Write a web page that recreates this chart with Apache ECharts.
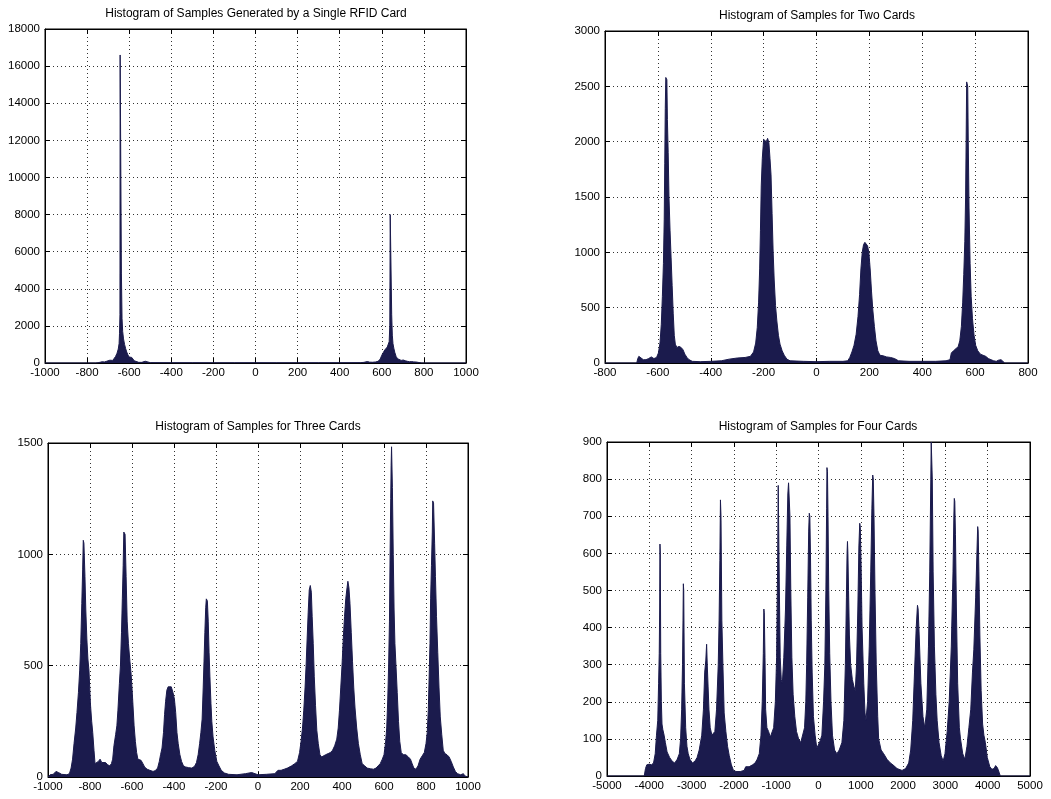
<!DOCTYPE html>
<html>
<head>
<meta charset="utf-8">
<title>RFID sample histograms</title>
<script src="https://cdn.jsdelivr.net/npm/echarts@6/dist/echarts.min.js"></script>
<style>
  html, body { margin: 0; padding: 0; background: #fff; }
  #chart { width: 1051px; height: 799px; }
</style>
</head>
<body>
<div id="chart"></div>
<script>
// histogram bins: [bin centre, count]
var singleCard = [
  [-1000, 0], [-760, 0], [-748, 15], [-738, 40], [-728, 70], [-718, 55], [-708, 90], [-700, 70],
  [-692, 150], [-685, 110], [-678, 140], [-671, 230], [-665, 350], [-658, 520], [-652, 750],
  [-648, 1050], [-646, 1600], [-644, 2600], [-643, 16600], [-639, 16600], [-637, 4800],
  [-634, 2400], [-631, 1700], [-627, 1300], [-622, 1000], [-617, 780], [-612, 600], [-606, 430],
  [-600, 320], [-594, 330], [-588, 300], [-582, 240], [-576, 120], [-568, 60], [-555, 35],
  [-540, 35], [-532, 90], [-524, 95], [-516, 40], [-500, 20], [-400, 15], [-300, 15], [-200, 12],
  [-100, 12], [0, 15], [100, 12], [200, 12], [300, 15], [400, 15], [500, 20], [515, 35],
  [524, 75], [532, 80], [542, 45], [556, 40], [570, 55], [582, 90], [592, 200], [600, 420],
  [607, 560], [614, 700], [620, 780], [626, 860], [631, 950], [635, 1150], [638, 2000],
  [640, 8000], [645, 7900], [647, 2600], [650, 1500], [653, 1050], [657, 800], [662, 560],
  [668, 350], [675, 230], [683, 160], [692, 140], [702, 160], [712, 120], [722, 90], [732, 70],
  [742, 75], [752, 60], [762, 55], [772, 35], [780, 10], [790, 0], [1000, 0]
];

var twoCards = [
  [-800, 0], [-680, 0], [-676, 40], [-672, 60], [-665, 50], [-655, 30], [-645, 30], [-635, 40],
  [-625, 55], [-615, 40], [-605, 50], [-598, 90], [-592, 180], [-587, 350], [-583, 600],
  [-579, 900], [-576, 1300], [-574, 1800], [-572, 2300], [-570, 2580], [-566, 2560],
  [-564, 2200], [-561, 1900], [-558, 1500], [-554, 1200], [-550, 950], [-546, 700], [-542, 450],
  [-538, 250], [-534, 170], [-528, 140], [-520, 150], [-512, 140], [-505, 120], [-498, 80],
  [-490, 50], [-482, 30], [-470, 15], [-440, 12], [-400, 15], [-360, 20], [-330, 35], [-300, 45],
  [-270, 50], [-250, 60], [-238, 100], [-230, 180], [-224, 320], [-219, 550], [-215, 850],
  [-212, 1200], [-209, 1600], [-205, 1850], [-200, 2020], [-195, 2030], [-190, 2000],
  [-185, 2030], [-180, 1990], [-176, 1850], [-172, 1700], [-168, 1350], [-164, 1000], [-160, 750],
  [-155, 520], [-150, 380], [-144, 250], [-138, 170], [-130, 110], [-122, 70], [-112, 35],
  [-100, 20], [-50, 15], [0, 12], [50, 15], [100, 15], [118, 20], [126, 50], [134, 100],
  [142, 160], [150, 260], [157, 420], [163, 620], [168, 850], [173, 1000], [178, 1070],
  [183, 1090], [188, 1080], [193, 1060], [198, 1000], [203, 850], [208, 650], [213, 480],
  [219, 330], [225, 200], [232, 110], [240, 70], [252, 65], [265, 55], [280, 50], [295, 40],
  [310, 20], [350, 15], [400, 15], [450, 15], [490, 20], [505, 30], [510, 90], [518, 110],
  [528, 130], [536, 150], [542, 200], [548, 330], [553, 550], [557, 800], [561, 1100],
  [564, 1500], [566, 2000], [568, 2540], [572, 2500], [574, 2000], [577, 1400], [581, 900],
  [585, 600], [590, 400], [596, 250], [602, 160], [610, 110], [620, 80], [630, 70], [640, 60],
  [650, 40], [660, 30], [670, 20], [680, 15], [688, 25], [698, 30], [705, 15], [712, 0], [800, 0]
];

var threeCards = [
  [-1000, 0], [-990, 10], [-975, 12], [-962, 25], [-950, 20], [-935, 12], [-910, 10], [-898, 15],
  [-890, 40], [-883, 80], [-876, 150], [-868, 220], [-862, 290], [-855, 380], [-849, 480],
  [-844, 600], [-839, 780], [-835, 930], [-832, 1063], [-829, 1050], [-824, 900], [-820, 750],
  [-815, 620], [-810, 530], [-805, 480], [-798, 330], [-792, 250], [-787, 200], [-781, 120],
  [-776, 60], [-768, 55], [-760, 70], [-752, 80], [-744, 65], [-736, 60], [-726, 65], [-716, 55],
  [-706, 50], [-698, 60], [-692, 80], [-686, 140], [-678, 190], [-672, 230], [-667, 300],
  [-660, 420], [-655, 500], [-650, 650], [-646, 800], [-642, 950], [-639, 1100], [-633, 1090],
  [-628, 900], [-623, 700], [-617, 600], [-610, 520], [-604, 460], [-597, 350], [-590, 230],
  [-584, 160], [-578, 110], [-572, 80], [-565, 78], [-557, 75], [-548, 60], [-540, 45],
  [-528, 35], [-515, 30], [-500, 25], [-490, 28], [-478, 40], [-470, 70], [-464, 100],
  [-457, 130], [-450, 200], [-445, 280], [-440, 340], [-434, 390], [-428, 405], [-420, 410],
  [-413, 405], [-405, 380], [-398, 350], [-392, 290], [-386, 200], [-380, 150], [-372, 100],
  [-364, 70], [-355, 50], [-345, 45], [-330, 42], [-315, 40], [-302, 48], [-293, 65], [-285, 100],
  [-278, 150], [-272, 200], [-266, 260], [-261, 400], [-257, 520], [-253, 650], [-249, 760],
  [-246, 800], [-241, 790], [-237, 700], [-233, 560], [-229, 450], [-224, 330], [-220, 250],
  [-214, 180], [-206, 120], [-196, 70], [-186, 50], [-175, 30], [-160, 18], [-140, 12],
  [-100, 10], [-60, 15], [-30, 20], [0, 10], [40, 12], [80, 15], [95, 30], [110, 30], [125, 35],
  [140, 40], [160, 50], [175, 60], [188, 70], [198, 110], [205, 160], [212, 220], [218, 300],
  [224, 400], [229, 500], [234, 620], [239, 740], [244, 840], [249, 860], [254, 830], [258, 720],
  [263, 600], [268, 450], [274, 320], [280, 210], [287, 150], [295, 100], [303, 90], [312, 95],
  [322, 100], [334, 105], [345, 110], [355, 120], [365, 140], [375, 170], [382, 220], [388, 300],
  [394, 400], [400, 500], [406, 620], [412, 720], [418, 800], [424, 850], [428, 879], [433, 850],
  [438, 780], [444, 650], [450, 520], [456, 400], [462, 310], [470, 220], [478, 150], [487, 100],
  [496, 60], [508, 50], [520, 40], [535, 37], [550, 35], [562, 40], [572, 50], [582, 60],
  [592, 80], [600, 100], [607, 150], [613, 220], [618, 350], [622, 500], [626, 700], [629, 1000],
  [632, 1250], [634, 1400], [636, 1483], [640, 1300], [644, 1000], [648, 750], [652, 600],
  [657, 500], [663, 380], [669, 250], [675, 160], [682, 110], [692, 100], [704, 100], [716, 90],
  [726, 80], [734, 60], [742, 40], [752, 35], [762, 50], [772, 80], [782, 95], [792, 110],
  [800, 150], [806, 200], [811, 300], [815, 450], [819, 600], [822, 800], [826, 950], [830, 1100],
  [832, 1240], [836, 1230], [841, 1050], [845, 900], [850, 720], [856, 560], [862, 400],
  [868, 270], [875, 190], [882, 120], [890, 105], [900, 100], [910, 90], [920, 70], [930, 45],
  [940, 25], [950, 15], [965, 10], [978, 15], [985, 5], [992, 0], [1000, 0]
];

var fourCards = [
  [-5000, 0], [-4120, 0], [-4090, 20], [-4060, 30], [-4000, 32], [-3950, 30], [-3900, 35],
  [-3860, 60], [-3830, 110], [-3800, 150], [-3780, 250], [-3765, 330], [-3755, 450], [-3748, 625],
  [-3740, 600], [-3730, 330], [-3715, 200], [-3700, 140], [-3680, 125], [-3650, 110], [-3620, 90],
  [-3580, 65], [-3520, 50], [-3460, 40], [-3400, 35], [-3340, 45], [-3290, 60], [-3260, 100],
  [-3235, 180], [-3215, 300], [-3203, 420], [-3195, 518], [-3186, 500], [-3170, 250],
  [-3140, 130], [-3110, 80], [-3080, 60], [-3040, 45], [-2980, 35], [-2920, 40], [-2870, 50],
  [-2820, 70], [-2760, 110], [-2720, 180], [-2690, 280], [-2665, 310], [-2645, 355], [-2630, 300],
  [-2610, 240], [-2590, 180], [-2560, 130], [-2520, 110], [-2480, 115], [-2450, 120],
  [-2410, 180], [-2370, 300], [-2350, 420], [-2332, 580], [-2318, 744], [-2305, 700],
  [-2285, 420], [-2260, 300], [-2230, 170], [-2190, 120], [-2150, 80], [-2110, 55], [-2060, 30],
  [-2010, 15], [-1950, 12], [-1850, 12], [-1760, 15], [-1720, 25], [-1640, 25], [-1560, 30],
  [-1500, 35], [-1450, 45], [-1400, 60], [-1360, 110], [-1330, 200], [-1305, 330], [-1292, 450],
  [-1282, 440], [-1265, 320], [-1250, 180], [-1220, 130], [-1180, 120], [-1140, 105], [-1100, 100],
  [-1060, 130], [-1020, 200], [-990, 320], [-968, 550], [-952, 783], [-942, 780], [-925, 500],
  [-905, 320], [-880, 260], [-855, 250], [-820, 320], [-780, 450], [-750, 620], [-725, 760],
  [-708, 790], [-695, 785], [-675, 700], [-655, 500], [-630, 320], [-600, 220], [-560, 160],
  [-520, 120], [-470, 100], [-420, 90], [-380, 85], [-330, 130], [-300, 200], [-280, 300],
  [-255, 480], [-232, 660], [-218, 708], [-205, 700], [-190, 600], [-172, 420], [-150, 280],
  [-120, 160], [-80, 110], [-40, 75], [0, 80], [40, 95], [80, 110], [120, 200], [150, 300],
  [175, 500], [192, 720], [200, 831], [212, 820], [225, 700], [242, 500], [265, 330], [295, 200],
  [330, 110], [380, 70], [435, 60], [490, 70], [553, 90], [600, 150], [635, 300], [660, 480],
  [675, 600], [685, 632], [695, 600], [710, 500], [730, 380], [760, 300], [800, 260], [840, 240],
  [869, 230], [900, 300], [930, 450], [955, 620], [975, 681], [988, 670], [1005, 580], [1030, 400],
  [1070, 250], [1100, 170], [1122, 150], [1160, 200], [1200, 350], [1235, 550], [1262, 720],
  [1282, 811], [1295, 800], [1312, 700], [1335, 500], [1365, 300], [1400, 160], [1422, 100],
  [1480, 70], [1541, 60], [1620, 45], [1700, 35], [1760, 30], [1857, 20], [1975, 15], [2060, 20],
  [2133, 35], [2180, 70], [2228, 150], [2270, 280], [2310, 400], [2340, 460], [2355, 450],
  [2380, 380], [2420, 250], [2470, 160], [2512, 130], [2560, 180], [2600, 350], [2630, 550],
  [2655, 800], [2665, 900], [2678, 900], [2690, 800], [2710, 550], [2740, 350], [2775, 220],
  [2805, 150], [2850, 90], [2900, 55], [2947, 40], [2990, 60], [3042, 120], [3090, 200],
  [3140, 350], [3180, 550], [3200, 700], [3210, 748], [3222, 740], [3238, 650], [3260, 450],
  [3290, 250], [3330, 130], [3357, 100], [3410, 60], [3460, 45], [3510, 80], [3555, 130],
  [3600, 180], [3640, 280], [3672, 340], [3715, 480], [3745, 600], [3763, 672], [3775, 660],
  [3792, 550], [3815, 380], [3845, 230], [3880, 140], [3910, 110], [3945, 90], [3990, 50],
  [4050, 25], [4100, 18], [4150, 20], [4187, 28], [4230, 22], [4270, 10], [4297, 0], [5000, 0]
];

var titles = [
  "Histogram of Samples Generated by a Single RFID Card",
  "Histogram of Samples for Two Cards",
  "Histogram of Samples for Three Cards",
  "Histogram of Samples for Four Cards"
];

// [min, max, interval]
var xTicks = [[-1000, 1000, 200], [-800, 800, 200], [-1000, 1000, 200], [-5000, 5000, 1000]];
var yTicks = [[0, 18000, 2000], [0, 3000, 500], [0, 1500, 500], [0, 900, 100]];

var chart = echarts.init(document.getElementById("chart"));

var font = "Liberation Sans, Arial, Helvetica, sans-serif";
var ink = "#1b1b4d";
var boxes = [
  { left: 45, top: 29, width: 421, height: 334, titleX: 256, titleY: 8 },
  { left: 605, top: 31, width: 423, height: 332, titleX: 817, titleY: 10 },
  { left: 48, top: 443, width: 420, height: 334, titleX: 258, titleY: 421 },
  { left: 607, top: 442, width: 423, height: 334, titleX: 818, titleY: 421 }
];
var panels = [singleCard, twoCards, threeCards, fourCards];

function axis(range, i, pos, labels, grid) {
  return {
    type: "value",
    gridIndex: i,
    position: pos,
    min: range[0],
    max: range[1],
    interval: range[2],
    axisLine: { show: true, onZero: false, lineStyle: { color: "#000", width: 1 } },
    axisTick: { show: true, inside: true, length: 5, lineStyle: { color: "#000" } },
    axisLabel: {
      show: labels,
      color: "#000",
      fontFamily: font,
      fontSize: 11.5,
      margin: pos == "left" ? 5 : 4,
      showMinLabel: true,
      showMaxLabel: true,
      formatter: function(v) {
        return String(v);
      }
    },
    splitLine: {
      show: grid,
      lineStyle: { color: "#333", width: 1, type: [1, 3] }
    }
  };
}

var option = {
  backgroundColor: "#fff",
  animation: false,
  title: [],
  grid: [],
  xAxis: [],
  yAxis: [],
  series: []
};

boxes.forEach(function(b, i) {
  option.title.push({
    text: titles[i],
    left: b.titleX,
    top: b.titleY,
    textAlign: "center",
    padding: 0,
    textStyle: { fontFamily: font, fontSize: 12, fontWeight: "normal", color: "#000" }
  });
  option.grid.push({
    left: b.left,
    top: b.top,
    width: b.width,
    height: b.height,
    outerBoundsMode: "none",
    show: true,
    backgroundColor: "#fff",
    borderColor: "#000",
    borderWidth: 1
  });
  option.xAxis.push(axis(xTicks[i], i, "bottom", true, true));
  option.xAxis.push(axis(xTicks[i], i, "top", false, false));
  option.yAxis.push(axis(yTicks[i], i, "left", true, true));
  option.yAxis.push(axis(yTicks[i], i, "right", false, false));
  option.series.push({
    type: "line",
    xAxisIndex: i * 2,
    yAxisIndex: i * 2,
    data: panels[i],
    symbol: "none",
    silent: true,
    lineStyle: { color: ink, width: 1 },
    areaStyle: { color: ink, opacity: 1 },
    z: 1
  });
});

chart.setOption(option);

window.addEventListener("resize", function() {
  chart && chart.resize();
});
</script>
</body>
</html>
